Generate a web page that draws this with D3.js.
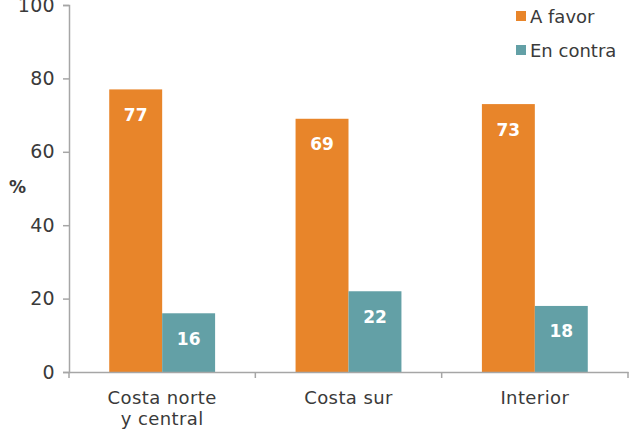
<!DOCTYPE html>
<html>
<head>
<meta charset="utf-8">
<script src="https://cdn.jsdelivr.net/npm/d3@7"></script>
<style>
  body { margin: 0; background: #fff; }
  svg text { font-family: "DejaVu Sans", "Open Sans", sans-serif; }
</style>
</head>
<body>
<div id="chart"></div>
<script>
// Data
const categories = [["Costa norte", "y central"], ["Costa sur"], ["Interior"]];
const series = [
    { name: "A favor", color: "#E8852A" },
    { name: "En contra", color: "#63A0A6" }
];
const aFavor = [77, 69, 73];
const enContra = [16, 22, 18];
const yTicks = [0, 20, 40, 60, 80, 100];

const width = 632, height = 431;
const margin = { top: 5, right: 4, bottom: 59, left: 69 };
const textColor = "#3a3a3a";

const svg = d3.select("#chart").append("svg")
    .attr("width", width)
    .attr("height", height);

const catKeys = categories.map(c => c.join(" "));
const rows = catKeys.map((k, i) => ({ key: k, lines: categories[i], values: [aFavor[i], enContra[i]] }));

const x0 = d3.scaleBand()
    .domain(catKeys)
    .range([margin.left, width - margin.right])
    .padding(0);

const x1 = d3.scaleBand()
    .domain(series.map(s => s.name))
    .range([0, x0.bandwidth()])
    .paddingInner(0)
    .paddingOuter(0.76);

const y = d3.scaleLinear()
    .domain([0, 100])
    .range([height - margin.bottom, margin.top]);

// Y axis
const yAxis = svg.append("g")
    .attr("transform", `translate(${margin.left},0)`)
    .call(d3.axisLeft(y).tickValues(yTicks).tickSize(6).tickPadding(8));
yAxis.select(".domain").attr("stroke", "#a6a6a6").attr("stroke-width", 1.5);
yAxis.selectAll(".tick line").attr("stroke", "#a6a6a6").attr("stroke-width", 1.5);
yAxis.selectAll(".tick text")
    .style("font-size", "19px")
    .style("letter-spacing", "0.3px")
    .attr("fill", textColor);

// Y axis title
svg.append("text")
    .attr("x", 17.5)
    .attr("y", 193)
    .attr("text-anchor", "middle")
    .style("font-size", "17px")
    .style("font-weight", "bold")
    .attr("fill", textColor)
    .text("%");

// Bars
const groups = svg.selectAll(".cat")
    .data(rows)
    .join("g")
    .attr("class", "cat")
    .attr("transform", d => `translate(${x0(d.key)},0)`);

groups.selectAll("rect")
    .data(d => d.values.map((v, i) => ({ series: series[i], value: v })))
    .join("rect")
    .attr("x", d => x1(d.series.name))
    .attr("y", d => y(d.value))
    .attr("width", x1.bandwidth())
    .attr("height", d => y(0) - y(d.value))
    .attr("fill", d => d.series.color);

groups.selectAll("text.val")
    .data(d => d.values.map((v, i) => ({ series: series[i], value: v })))
    .join("text")
    .attr("class", "val")
    .attr("x", d => x1(d.series.name) + x1.bandwidth() / 2)
    .attr("y", d => y(d.value) + 31.5)
    .attr("text-anchor", "middle")
    .style("font-size", "17px")
    .style("font-weight", "bold")
    .attr("fill", "#fff")
    .text(d => d.value);

// X axis
const xAxis = svg.append("g")
    .attr("transform", `translate(0,${y(0)})`)
    .call(d3.axisBottom(x0).tickSize(0).tickFormat(""));
xAxis.select(".domain").attr("stroke", "#a6a6a6").attr("stroke-width", 1.5);

// boundary ticks between categories
const bounds = catKeys.map(k => x0(k)).concat([x0(catKeys[catKeys.length - 1]) + x0.bandwidth()]);
xAxis.selectAll("line.sep")
    .data(bounds)
    .join("line")
    .attr("class", "sep")
    .attr("x1", d => d)
    .attr("x2", d => d)
    .attr("y1", 0)
    .attr("y2", 6)
    .attr("stroke", "#a6a6a6")
    .attr("stroke-width", 1.5);

// category labels
const catLabels = svg.selectAll("text.cat-label")
    .data(rows)
    .join("text")
    .attr("class", "cat-label")
    .attr("x", d => x0(d.key) + x0.bandwidth() / 2)
    .attr("y", y(0) + 32)
    .attr("text-anchor", "middle")
    .style("font-size", "18px")
    .style("letter-spacing", "0.4px")
    .attr("fill", textColor);
catLabels.selectAll("tspan")
    .data(d => d.lines)
    .join("tspan")
    .attr("x", function () { return d3.select(this.parentNode).attr("x"); })
    .attr("dy", (d, i) => i === 0 ? 0 : 21)
    .text(d => d);

// Legend
const legend = svg.append("g").attr("transform", "translate(516,11)");
series.forEach((s, i) => {
    const row = legend.append("g").attr("transform", `translate(0,${i * 34})`);
    row.append("rect")
        .attr("width", 10)
        .attr("height", 10)
        .attr("fill", s.color);
    row.append("text")
        .attr("x", 14)
        .attr("y", 11.5)
        .style("font-size", "18px")
        .attr("fill", textColor)
        .text(s.name);
});
</script>
</body>
</html>
